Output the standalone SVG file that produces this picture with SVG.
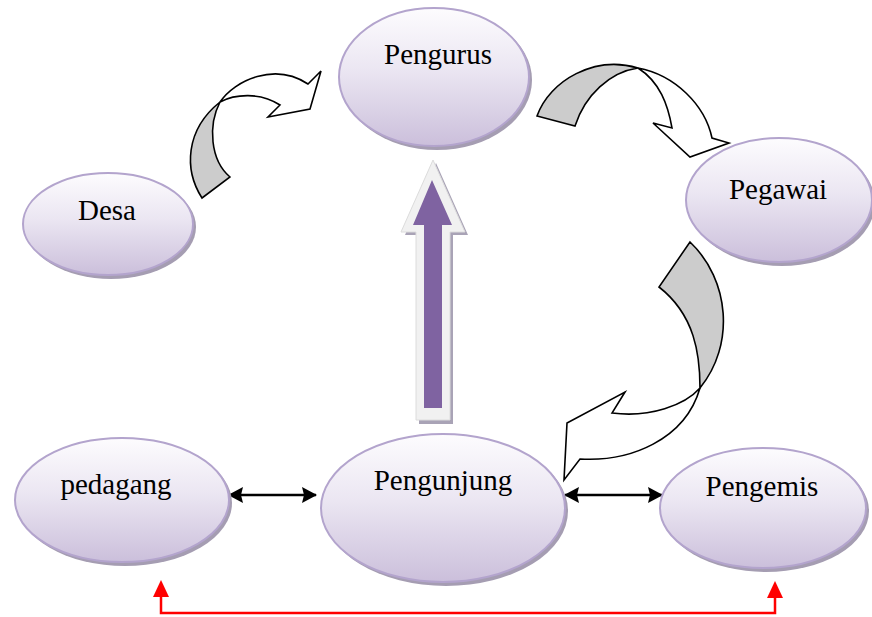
<svg xmlns="http://www.w3.org/2000/svg" width="872" height="617" viewBox="0 0 872 617">
<defs>
<linearGradient id="g" x1="0" y1="0" x2="0" y2="1">
<stop offset="0" stop-color="#fdfcfe"/>
<stop offset="0.45" stop-color="#ebe6f2"/>
<stop offset="1" stop-color="#cbbfdb"/>
</linearGradient>
<marker id="ah" viewBox="0 0 15 16" refX="14" refY="8" markerWidth="15" markerHeight="16" markerUnits="userSpaceOnUse" orient="auto-start-reverse">
<path d="M0,0 L15,8 L0,16 L2,8 Z" fill="#000"/>
</marker>
</defs>
<style>
.sh{fill:#a59db2}
.el{fill:url(#g);stroke:#b3a4cd;stroke-width:2}
.t{font-family:"Liberation Serif","Times New Roman",serif;font-size:29px;fill:#000;text-anchor:middle}
.ca{stroke:#000;stroke-width:1.6;stroke-linejoin:miter}
.gr{fill:#cccccc}
.wh{fill:#ffffff}
.dl{stroke:#000;stroke-width:2.5;fill:none}
.rd{fill:#ff0000}
</style>

<g id="connectors">
<g id="c-desa-pengurus">
<path class="ca wh" d="M220,102 C235,80 275,62 308,84 L321,71 L310,109 L268,117 L280,105 C260,92 235,94 220,102 Z"/>
<path class="ca gr" d="M202,198 C184,170 185,130 220,102 C208,125 210,160 230,177 Z"/>
</g>
<g id="c-pengurus-pegawai">
<path class="ca wh" d="M638,68 C675,75 705,105 712,138 L729,143 L690,157 L653,123 L672,128 C668,105 660,82 638,68 Z"/>
<path class="ca gr" d="M537,116 C550,80 595,55 638,68 C610,72 585,95 575,126 Z"/>
</g>
<g id="c-pegawai-pengunjung">
<path class="ca wh" d="M700,388 C685,440 630,462 580,459 L564,480 L567,423 L625,392 L612,413 C650,418 685,405 700,388 Z"/>
<path class="ca gr" d="M690,242 C730,280 735,345 700,388 C700,355 695,315 659,287 Z"/>
</g>
<g id="c-pengunjung-pengurus">
<path fill="#a9a3b6" d="M436,163 L468,235 L453,235 L453,424 L419,424 L419,235 L405,235 Z"/>
<path fill="#f1f1f1" stroke="#dcdcdc" stroke-width="1" d="M433,160 L465,232 L450,232 L450,420 L416,420 L416,232 L401,232 Z"/>
<path fill="#7f63a1" d="M432,180 L452,225 L442,225 L442,408 L424,408 L424,225 L413,225 Z"/>
</g>
<line class="dl" x1="229" y1="495" x2="316" y2="495" marker-start="url(#ah)" marker-end="url(#ah)"/>
<line class="dl" x1="565" y1="495" x2="662" y2="495" marker-start="url(#ah)" marker-end="url(#ah)"/>
<g id="c-pedagang-pengemis">
<path d="M161,595 L161,613 L775,613 L775,595" fill="none" stroke="#ff0000" stroke-width="2.5"/>
<path class="rd" d="M161,580 L169,597 L153,597 Z"/>
<path class="rd" d="M775,581 L783,598 L767,598 Z"/>
</g>
</g>

<g id="n-pengurus">
<ellipse class="sh" cx="437" cy="80" rx="95" ry="70"/>
<ellipse class="el" cx="434" cy="77" rx="95" ry="69"/>
<text class="t" x="438" y="64">Pengurus</text>
</g>
<g id="n-desa">
<ellipse class="sh" cx="111" cy="227" rx="85" ry="52"/>
<ellipse class="el" cx="108" cy="224" rx="85" ry="51"/>
<text class="t" x="107" y="220">Desa</text>
</g>
<g id="n-pegawai">
<ellipse class="sh" cx="782" cy="203" rx="93" ry="63"/>
<ellipse class="el" cx="779" cy="200" rx="93" ry="62"/>
<text class="t" x="778" y="199">Pegawai</text>
</g>
<g id="n-pedagang">
<ellipse class="sh" cx="125" cy="503" rx="107" ry="63"/>
<ellipse class="el" cx="122" cy="500" rx="107" ry="62"/>
<text class="t" x="116" y="494">pedagang</text>
</g>
<g id="n-pengunjung">
<ellipse class="sh" cx="446" cy="511" rx="122" ry="75"/>
<ellipse class="el" cx="443" cy="508" rx="122" ry="74"/>
<text class="t" x="443" y="490">Pengunjung</text>
</g>
<g id="n-pengemis">
<ellipse class="sh" cx="766" cy="511" rx="103" ry="61"/>
<ellipse class="el" cx="763" cy="508" rx="103" ry="60"/>
<text class="t" x="762" y="496">Pengemis</text>
</g>
</svg>
